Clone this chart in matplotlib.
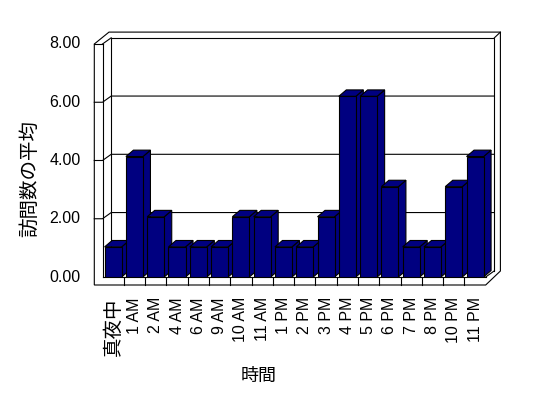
import matplotlib
matplotlib.use("Agg")
import matplotlib.pyplot as plt
from matplotlib.patches import Polygon

# data: average visits per hour
hours = ["真夜中", "1 AM", "2 AM", "4 AM", "6 AM", "9 AM", "10 AM", "11 AM",
         "1 PM", "2 PM", "3 PM", "4 PM", "5 PM", "6 PM", "7 PM", "8 PM",
         "10 PM", "11 PM"]
avg_visits = [1, 4, 2, 1, 1, 1, 2, 2, 1, 1, 2, 6, 6, 3, 1, 1, 3, 4]
y_ticks = [0, 2, 4, 6, 8]
y_ticklabels = ["0.00", "2.00", "4.00", "6.00", "8.00"]

NAVY = "#000080"
LW = 0.8
FW, FH = 548, 398

# front plane in pixels
left_px, right_px = 102.5, 485.7
y0_px, y8_px = 277.0, 44.0
n = len(hours)
ppx = (right_px - left_px) / n        # px per category
ppy = (y0_px - y8_px) / 8.0           # px per value unit

fig = plt.figure(figsize=(FW / 100, FH / 100), dpi=100)
rect = [left_px / FW, 1 - y0_px / FH, (right_px - left_px) / FW, (y0_px - y8_px) / FH]
ax = fig.add_axes(rect)
ax.set_xlim(-0.5, n - 0.5)
ax.set_ylim(0, 8)
ax.axis("off")


def dx(p):
    return p / ppx


def dy(p):
    return p / ppy


def line(xs, ys):
    ax.plot(xs, ys, color="black", lw=LW, clip_on=False, solid_capstyle="projecting", zorder=1)


x_l, x_r = -0.5, n - 0.5
wall_t = dx(8.2)
floor_t = dy(8.0)
ddx, ddy = dx(8.7), dy(6.2)        # front -> back wall
odx, ody = dx(14.7), dy(11.9)      # front -> outer back edge

# outer outline
outline = [(x_l - wall_t, -floor_t), (x_r, -floor_t), (x_r + odx, dy(6.0)),
           (x_r + odx, 8 + ody), (x_l - wall_t + odx, 8 + ody), (x_l - wall_t, 8)]
ax.add_patch(Polygon(outline, closed=True, facecolor="white", edgecolor="black",
                     lw=LW, clip_on=False, zorder=0))

# left wall
line([x_l - wall_t, x_l], [8, 8])
line([x_l, x_l], [0, 8])
line([x_l, x_l + ddx], [8, 8 + ddy])
# back wall
line([x_l + ddx, x_l + ddx, x_r + ddx, x_r + ddx], [ddy, 8 + ddy, 8 + ddy, ddy])
line([x_r + ddx, x_r + odx], [8 + ddy, 8 + ody])
# gridlines
for v in y_ticks[1:-1]:
    line([x_l - wall_t, x_l, x_l + ddx, x_r + ddx], [v, v, v + ddy, v + ddy])

# floor
line([x_l, x_r], [0, 0])
line([x_r, x_r + ddx], [0, ddy])
for i in range(n - 1):
    line([i + 0.5, i + 0.5], [-floor_t, 0])

# value labels
lab_font = ["Liberation Sans", "Noto Sans CJK JP"]
for v, t in zip(y_ticks, y_ticklabels):
    ax.text(x_l + dx(80.7 - left_px), v, t, ha="right", va="center",
            fontsize=11.5, family=lab_font)
for i, h in enumerate(hours):
    cjk = not h.isascii()
    ax.text(i, -dy(297 - y0_px), h, ha="center", va="top", rotation=90,
            fontsize=14 if cjk else 11.5, family=lab_font)

# bars use a slightly stretched value scale (3D perspective)
axb = fig.add_axes(rect)
bar_top = 8 / 1.034
axb.set_xlim(-0.5, n - 0.5)
axb.set_ylim(0, bar_top)
axb.axis("off")
bpy = (y0_px - y8_px) / bar_top
bdx, bdy = dx(7.5), 6.4 / bpy
bw = 0.8

bars = axb.bar(range(n), avg_visits, width=bw, color=NAVY, edgecolor="black", lw=LW)
for i, (r, v) in enumerate(zip(bars, avg_visits)):
    r.set_zorder(3 + 2 * i)
    x0, x1 = i - bw / 2, i + bw / 2
    top = [(x0, v), (x0 + bdx, v + bdy), (x1 + bdx, v + bdy), (x1, v)]
    side = [(x1, 0), (x1, v), (x1 + bdx, v + bdy), (x1 + bdx, bdy)]
    for pts in (side, top):
        axb.add_patch(Polygon(pts, closed=True, facecolor=NAVY, edgecolor="black",
                              lw=LW, zorder=2 + 2 * i, clip_on=False))

fig.text(30 / FW, 1 - 178.5 / FH, "訪問数の平均", rotation=90, ha="center", va="center",
         fontsize=14, family=["Noto Sans CJK JP"])
fig.text(259 / FW, 1 - 375.5 / FH, "時間", ha="center", va="center",
         fontsize=13, family=["Noto Sans CJK JP"])

fig.savefig("out.png", dpi=100, facecolor="white")
